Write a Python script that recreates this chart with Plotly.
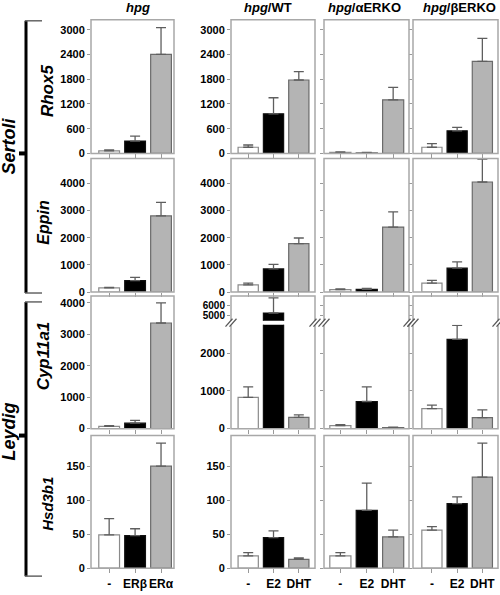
import plotly.graph_objects as go

# ---------------- data ----------------
cats_hpg = ["-", "ERβ", "ERα"]
cats_trt = ["-", "E2", "DHT"]
col_titles = ["<i>hpg</i>", "<i>hpg</i>/WT", "<i>hpg</i>/αERKO", "<i>hpg</i>/βERKO"]
gene_labels = ["Rhox5", "Eppin", "Cyp11a1", "Hsd3b1"]
group_labels = ["Sertoli", "Leydig"]

rhox5_hpg = [60, 300, 2400];    rhox5_hpg_err = [25, 120, 650]
rhox5_wt = [150, 960, 1780];    rhox5_wt_err = [55, 390, 205]
rhox5_aerko = [25, 10, 1300];   rhox5_aerko_err = [15, 15, 300]
rhox5_berko = [150, 550, 2230]; rhox5_berko_err = [90, 80, 560]

eppin_hpg = [150, 420, 2800];   eppin_hpg_err = [20, 120, 500]
eppin_wt = [260, 850, 1780];    eppin_wt_err = [70, 170, 210]
eppin_aerko = [90, 100, 2390];  eppin_aerko_err = [25, 35, 560]
eppin_berko = [330, 880, 4050]; eppin_berko_err = [100, 230, 840]

cyp_hpg = [70, 175, 3360];      cyp_hpg_err = [25, 85, 640]
cyp_wt = [830, 5270, 300];      cyp_wt_err = [280, 1400, 65]
cyp_aerko = [80, 720, 25];      cyp_aerko_err = [25, 390, 15]
cyp_berko = [530, 2370, 290];   cyp_berko_err = [95, 370, 210]

hsd_hpg = [49, 48, 150];        hsd_hpg_err = [24, 10, 34]
hsd_wt = [18, 45, 13];          hsd_wt_err = [5, 10, 2]
hsd_aerko = [18, 85, 46];       hsd_aerko_err = [5, 40, 10]
hsd_berko = [56, 95, 134];      hsd_berko_err = [5, 10, 50]

row_vals = [
    [rhox5_hpg, rhox5_wt, rhox5_aerko, rhox5_berko],
    [eppin_hpg, eppin_wt, eppin_aerko, eppin_berko],
    [cyp_hpg, cyp_wt, cyp_aerko, cyp_berko],
    [hsd_hpg, hsd_wt, hsd_aerko, hsd_berko],
]
row_errs = [
    [rhox5_hpg_err, rhox5_wt_err, rhox5_aerko_err, rhox5_berko_err],
    [eppin_hpg_err, eppin_wt_err, eppin_aerko_err, eppin_berko_err],
    [cyp_hpg_err, cyp_wt_err, cyp_aerko_err, cyp_berko_err],
    [hsd_hpg_err, hsd_wt_err, hsd_aerko_err, hsd_berko_err],
]

row_ticks = [[0, 600, 1200, 1800, 2400, 3000], [0, 1000, 2000, 3000, 4000],
             [0, 1000, 2000, 3000, 4000], [0, 50, 100, 150]]
row_ranges = [[0, 3240], [0, 4920], [0, 4220], [0, 195]]
broken_low_ticks = [0, 1000, 2000]
broken_low_range = [0, 2760]
broken_up_ticks = [5000, 6000]
broken_up_range = [4550, 6850]

# ---------------- geometry (pixels) ----------------
W, H = 500, 595
col_px = [(91, 174), (231, 315), (324, 409), (413, 498)]
col_xr = [[-0.7, 2.5], [-0.68, 2.64], [-0.62, 2.6], [-0.75, 2.62]]
row_px = [(20, 155), (160, 295), (299, 433), (440, 574)]
broken_low_px = (328, 433)
broken_up_px = (299, 324)

def fx(p):
    return p / W

def fy(p):
    return 1 - p / H

FONT = "Liberation Sans, Arial, sans-serif"
bar_fill = ["white", "black", "#b4b4b4"]
bar_line = ["#8a8a8a", "#111111", "#6a6a6a"]
frame_col = "#a8a8a8"
tick_col = "#999999"

fig = go.Figure()
layout = {}
shapes = []
annotations = []

def axname(prefix, k):
    return prefix + ("" if k == 1 else str(k))

def ref(prefix, k):
    return prefix + ("" if k == 1 else str(k))

extra = 16
k = 0
for r in range(4):
    for c in range(4):
        k += 1
        cats = cats_hpg if c == 0 else cats_trt
        broken = (r == 2 and c > 0)
        x0, x1 = col_px[c]
        if broken:
            yt, yb = broken_low_px
        else:
            yt, yb = row_px[r]
        layout[axname("xaxis", k)] = dict(
            domain=[fx(x0), fx(x1)], anchor=ref("y", k), type="category",
            range=col_xr[c], showgrid=False, zeroline=False, showline=False,
            ticks="outside", ticklen=4, tickcolor=tick_col, tickwidth=1, tickangle=0,
            showticklabels=(r == 3), tickfont=dict(family=FONT, size=12, color="black", weight="bold"),
            fixedrange=True,
        )
        layout[axname("yaxis", k)] = dict(
            domain=[fy(yb), fy(yt)], anchor=ref("x", k),
            range=broken_low_range if broken else row_ranges[r],
            tickvals=broken_low_ticks if broken else row_ticks[r],
            showgrid=False, zeroline=False, showline=False,
            ticks="outside", ticklen=3, tickcolor=tick_col, tickwidth=1,
            showticklabels=(c <= 1), tickfont=dict(family=FONT, size=11, color="black", weight="bold"),
            fixedrange=True,
        )
        vals = row_vals[r][c]
        errs = row_errs[r][c]
        bar_kw = dict(
            x=cats, y=vals, width=0.8,
            marker=dict(color=bar_fill, line=dict(color=bar_line, width=1.2)),
            error_y=dict(type="data", symmetric=False, array=errs, arrayminus=[0, 0, 0],
                         color="#5e5e5e", thickness=1.3, width=5),
            showlegend=False, hoverinfo="skip",
        )
        fig.add_trace(go.Bar(xaxis=ref("x", k), yaxis=ref("y", k), **bar_kw))
        if broken:
            extra += 1
            ut, ub = broken_up_px
            layout[axname("yaxis", extra)] = dict(
                domain=[fy(ub), fy(ut)], anchor=ref("x", k),
                range=broken_up_range, tickvals=broken_up_ticks,
                showgrid=False, zeroline=False, showline=False,
                ticks="outside", ticklen=3, tickcolor=tick_col, tickwidth=1,
                showticklabels=(c == 1), tickfont=dict(family=FONT, size=10, color="black", weight="bold"),
                fixedrange=True,
            )
            fig.add_trace(go.Bar(xaxis=ref("x", k), yaxis=ref("y", extra), **bar_kw))
        # frame
        ft, fb = row_px[r]
        shapes.append(dict(type="rect", xref="paper", yref="paper",
                           x0=fx(x0), x1=fx(x1), y0=fy(fb), y1=fy(ft),
                           line=dict(color=frame_col, width=1.5), layer="above"))
        if broken:
            yb_mid = 326
            for xe in (x0, x1):
                shapes.append(dict(type="line", xref="paper", yref="paper",
                                   x0=fx(xe), x1=fx(xe), y0=fy(yb_mid - 2.5), y1=fy(yb_mid + 2.5),
                                   line=dict(color="white", width=3), layer="above"))
                for dx in (-2, 2):
                    shapes.append(dict(type="line", xref="paper", yref="paper",
                                       x0=fx(xe + dx - 3.5), x1=fx(xe + dx + 3.5),
                                       y0=fy(yb_mid + 4), y1=fy(yb_mid - 4),
                                       line=dict(color="#555555", width=1.2), layer="above"))

# column titles
title_x = [138, 268, 364, 459]
for c in range(4):
    annotations.append(dict(text="<b>" + col_titles[c] + "</b>", x=fx(title_x[c]), y=fy(8),
                            xref="paper", yref="paper", showarrow=False, xanchor="center", yanchor="middle",
                            font=dict(family=FONT, size=13, color="black")))

# gene labels
gene_x = [47, 44, 43, 48]
gene_y = [92, 225, 360, 509]
gene_size = [17, 16, 17, 15]
for r in range(4):
    annotations.append(dict(text="<b><i>" + gene_labels[r] + "</i></b>", x=fx(gene_x[r]), y=fy(gene_y[r]),
                            xref="paper", yref="paper", showarrow=False, textangle=-90,
                            xanchor="center", yanchor="middle",
                            font=dict(family=FONT, size=gene_size[r], color="black")))

# group labels and brackets
grp_y = [148, 436]
brk = [(21, 296, 155), (305, 582, 440)]
for g in range(2):
    annotations.append(dict(text="<b><i>" + group_labels[g] + "</i></b>", x=fx(9), y=fy(grp_y[g]),
                            xref="paper", yref="paper", showarrow=False, textangle=-90,
                            xanchor="center", yanchor="middle",
                            font=dict(family=FONT, size=18, color="black")))
    t, b, m = brk[g]
    shapes.append(dict(type="line", xref="paper", yref="paper", x0=fx(26), x1=fx(26),
                       y0=fy(t), y1=fy(b), line=dict(color="black", width=3)))
    for yy in (t, b):
        shapes.append(dict(type="line", xref="paper", yref="paper", x0=fx(25), x1=fx(42),
                           y0=fy(yy), y1=fy(yy), line=dict(color="#666666", width=1.5)))
    shapes.append(dict(type="line", xref="paper", yref="paper", x0=fx(19), x1=fx(26),
                       y0=fy(m), y1=fy(m), line=dict(color="black", width=4)))

layout.update(dict(
    width=W, height=H, margin=dict(l=0, r=0, t=0, b=0),
    plot_bgcolor="white", paper_bgcolor="white", showlegend=False,
    barmode="overlay", shapes=shapes, annotations=annotations,
    font=dict(family=FONT),
))
fig.update_layout(**layout)
fig.write_html("out.html", config={"displayModeBar": False, "staticPlot": True},
               post_script="document.body.style.margin='0';document.body.style.overflow='hidden';")
